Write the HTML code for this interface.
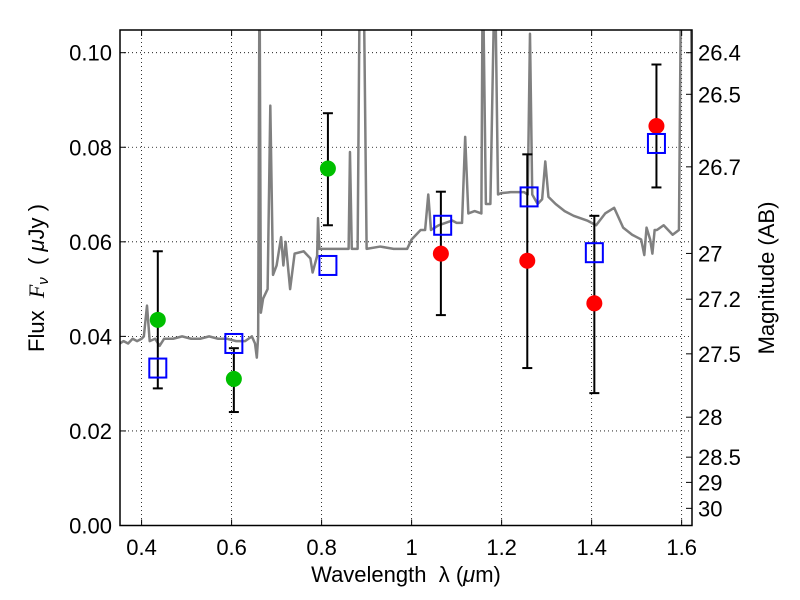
<!DOCTYPE html>
<html><head><meta charset="utf-8"><style>
body{margin:0;background:#fff}
svg{display:block;font-family:"Liberation Sans","DejaVu Sans",sans-serif}
svg text{white-space:pre}
</style></head><body>
<svg id="chart" width="800" height="600" viewBox="0 0 800 600">
<text x="406" y="582" font-size="22" text-anchor="middle">Wavelength  λ (<tspan font-style="italic">μ</tspan>m)</text>
<text transform="translate(44,278) rotate(-90)" font-size="22" text-anchor="middle">Flux  <tspan font-style="italic" font-family="Liberation Serif">F</tspan><tspan font-style="italic" font-size="15" dy="4">ν</tspan><tspan dy="-4">  ( </tspan><tspan font-style="italic">μ</tspan>Jy )</text>
<text transform="translate(774,278) rotate(-90)" font-size="22" text-anchor="middle">Magnitude (AB)</text>
</svg>
<script>
const xTicks=[0.4,0.6,0.8,1,1.2,1.4,1.6];
const xTickLabels=["0.4","0.6","0.8","1","1.2","1.4","1.6"];
const yTicks=[0,0.02,0.04,0.06,0.08,0.10];
const yTickLabels=["0.00","0.02","0.04","0.06","0.08","0.10"];
const magTicks=[26.4,26.5,26.7,27,27.2,27.5,28,28.5,29,30];
const magTickLabels=["26.4","26.5","26.7","27","27.2","27.5","28","28.5","29","30"];
const specWave=[0.352,0.36,0.37,0.38,0.39,0.40,0.405,0.412,0.418,0.43,0.44,0.45,0.47,0.49,0.51,0.53,0.55,0.57,0.59,0.61,0.63,0.645,0.652,0.656,0.659,0.662,0.665,0.67,0.68,0.686,0.692,0.70,0.71,0.715,0.72,0.725,0.73,0.74,0.76,0.775,0.78,0.79,0.792,0.795,0.81,0.83,0.85,0.86,0.863,0.867,0.88,0.885,0.889,0.893,0.90,0.93,0.96,0.99,1.0,1.02,1.03,1.037,1.043,1.06,1.09,1.10,1.112,1.119,1.126,1.14,1.155,1.158,1.165,1.175,1.185,1.192,1.199,1.22,1.25,1.258,1.263,1.268,1.28,1.29,1.297,1.304,1.32,1.34,1.36,1.39,1.41,1.43,1.45,1.47,1.49,1.51,1.517,1.522,1.53,1.535,1.54,1.545,1.56,1.58,1.594,1.599,1.605,1.62,1.625];
const specFlux=[0.0385,0.039,0.0385,0.0395,0.039,0.0395,0.040,0.0465,0.039,0.0395,0.038,0.0395,0.0395,0.040,0.0395,0.0395,0.040,0.0395,0.0395,0.039,0.039,0.040,0.0385,0.0355,0.040,0.12,0.045,0.048,0.050,0.0888,0.053,0.055,0.061,0.055,0.060,0.055,0.050,0.0575,0.058,0.0565,0.0535,0.057,0.065,0.0585,0.0585,0.0585,0.0585,0.0585,0.079,0.0585,0.0585,0.12,0.12,0.12,0.0585,0.059,0.0585,0.0585,0.0605,0.0625,0.0625,0.070,0.0625,0.0635,0.0645,0.064,0.064,0.0822,0.066,0.0665,0.066,0.12,0.068,0.068,0.12,0.07,0.0703,0.0705,0.0705,0.07,0.104,0.07,0.068,0.069,0.077,0.0695,0.068,0.0665,0.0655,0.0645,0.0635,0.066,0.0672,0.063,0.0615,0.0605,0.0572,0.063,0.0605,0.0575,0.0625,0.0625,0.0635,0.0615,0.0625,0.12,0.12,0.12,0.064];
const greenWave=[0.436,0.605,0.814];
const greenFlux=[0.0435,0.031,0.0755];
const redWave=[1.065,1.257,1.406,1.544];
const redFlux=[0.0575,0.056,0.047,0.0845];
const errWave=[0.436,0.605,0.814,1.065,1.257,1.406,1.544];
const errLow=[0.029,0.024,0.0635,0.0445,0.0333,0.028,0.0715];
const errHigh=[0.058,0.0375,0.0872,0.0706,0.0785,0.0655,0.0975];
const modelWave=[0.436,0.605,0.814,1.069,1.261,1.406,1.544];
const modelFlux=[0.0333,0.0385,0.055,0.0635,0.0695,0.0577,0.0808];

const L=120,R=692,T=30,B=525.5,X0=0.352,X1=1.623,Y0=0,Y1=0.1048;
const sx=w=>L+(w-X0)/(X1-X0)*(R-L);
const sy=f=>B-(f-Y0)/(Y1-Y0)*(B-T);
const svg=document.getElementById('chart');
const NS='http://www.w3.org/2000/svg';
function mk(tag,attrs,parent){const e=document.createElementNS(NS,tag);for(const k in attrs)e.setAttribute(k,attrs[k]);(parent||svg).appendChild(e);return e;}
const defs=mk('defs',{});const cp=mk('clipPath',{id:'clip'},defs);mk('rect',{x:L,y:T,width:R-L,height:B-T},cp);

const grid=mk('g',{});
xTicks.forEach(t=>{mk('line',{x1:sx(t),x2:sx(t),y1:T,y2:B,stroke:'#000','stroke-width':0.8,'stroke-dasharray':'1,3'},grid);});
yTicks.forEach(t=>{mk('line',{x1:L,x2:R,y1:sy(t),y2:sy(t),stroke:'#000','stroke-width':0.8,'stroke-dasharray':'1,3'},grid);});

const spec=mk('polyline',{points:specWave.map((w,i)=>sx(w)+','+sy(specFlux[i])).join(' '),fill:'none',stroke:'#808080','stroke-width':2.5,'stroke-linejoin':'round','clip-path':'url(#clip)'});


errWave.forEach((w,i)=>{const g=mk('g',{stroke:'#000','stroke-width':2});

const x=sx(w);mk('line',{x1:x,x2:x,y1:sy(errLow[i]),y2:sy(errHigh[i])},g);
mk('line',{x1:x-5,x2:x+5,y1:sy(errLow[i]),y2:sy(errLow[i])},g);
mk('line',{x1:x-5,x2:x+5,y1:sy(errHigh[i]),y2:sy(errHigh[i])},g);});
greenWave.forEach((w,i)=>{const c=mk('circle',{cx:sx(w),cy:sy(greenFlux[i]),r:8,fill:'#00bf00'});
});
redWave.forEach((w,i)=>{const c=mk('circle',{cx:sx(w),cy:sy(redFlux[i]),r:8,fill:'#ff0000'});
});
modelWave.forEach((w,i)=>{const r=mk('rect',{x:sx(w)-8.5,y:sy(modelFlux[i])-9.5,width:17,height:19,fill:'none',stroke:'#0000ff','stroke-width':2});
});

const frame=mk('rect',{x:L,y:T,width:R-L,height:B-T,fill:'none',stroke:'#000','stroke-width':1.5});


xTicks.forEach((t,i)=>{const x=sx(t);
mk('line',{x1:x,x2:x,y1:B,y2:B-6,stroke:'#000'});mk('line',{x1:x,x2:x,y1:T,y2:T+6,stroke:'#000'});
const tx=mk('text',{x:x,y:555,'font-size':22,'text-anchor':'middle'});tx.textContent=xTickLabels[i];
});
yTicks.forEach((t,i)=>{const y=sy(t);
mk('line',{x1:L,x2:L+6,y1:y,y2:y,stroke:'#000'});
const tx=mk('text',{x:112,y:y+8,'font-size':22,'text-anchor':'end'});tx.textContent=yTickLabels[i];
});
magTicks.forEach((m,i)=>{const y=sy(Math.pow(10,(23.9-m)/2.5));
mk('line',{x1:R,x2:R-6,y1:y,y2:y,stroke:'#000'});
const tx=mk('text',{x:698,y:y+8,'font-size':22});tx.textContent=magTickLabels[i];
});
</script>
</body></html>
